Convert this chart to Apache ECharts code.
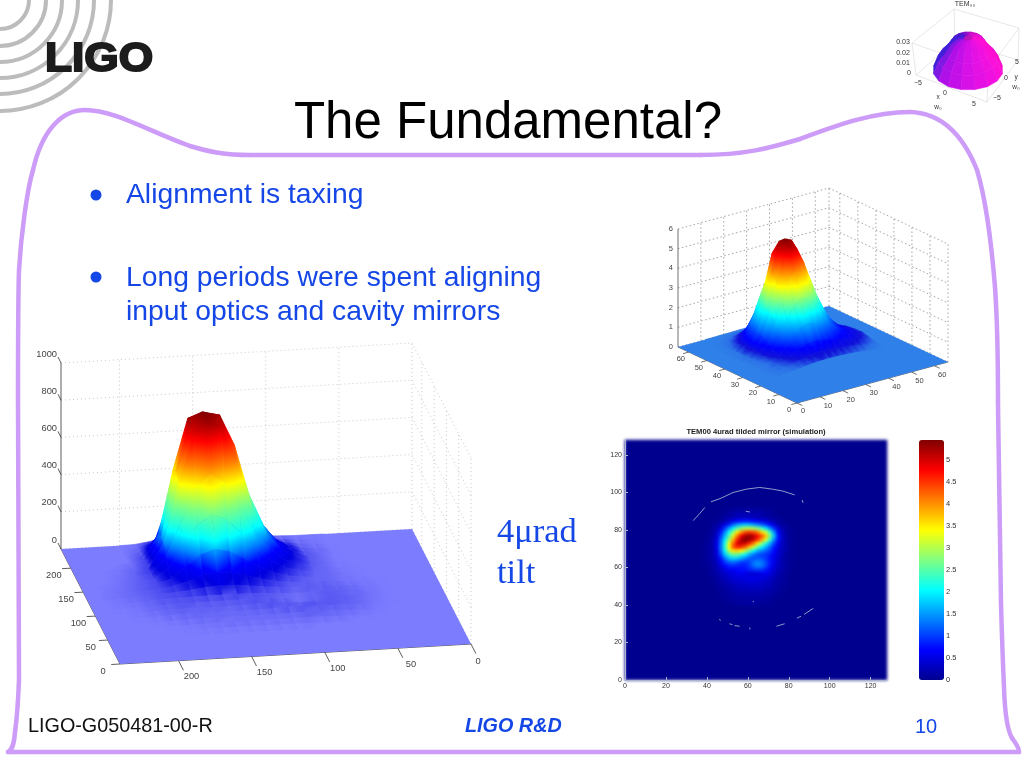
<!DOCTYPE html>
<html><head><meta charset="utf-8">
<style>html,body{margin:0;padding:0;background:#fff}#c{width:1024px;height:768px}
#c canvas[data-zr-dom-id="zr_1"]{filter:blur(1.5px)}
#c canvas[data-zr-dom-id="zr_3"]{filter:blur(.6px)}</style>
<script src="https://cdn.jsdelivr.net/npm/echarts@6/dist/echarts.min.js"></script>
</head><body><div id="c"></div>
<script>
/* ---------- data ---------- */
const heatTitle='TEM00 4urad tilded mirror (simulation)';
const heatCols=[38,40,42,44,46,48,50,52,54,56,58,60,62,64,66,68,70,72,74,76,78,80,82,84];
const heatRowsY=[90,88,86,84,82,80,78,76,74,72,70,68,66,64,62,60,58,56,54,52,50,48,46,44,42,40];
const heatValues=[
[0,0,0,0,0,0,.05,.05,.1,.1,.1,.1,.1,.1,.1,.05,.05,0,0,0,0,0,0,0],
[0,0,0,0,0,.05,.1,.15,.2,.2,.2,.2,.2,.2,.15,.1,.1,.05,0,0,0,0,0,0],
[0,0,0,0,.05,.1,.15,.2,.3,.3,.3,.3,.25,.2,.2,.15,.1,.05,.05,0,0,0,0,0],
[0,0,0,.05,.1,.2,.35,.55,.7,.75,.8,.75,.7,.6,.5,.4,.3,.2,.1,.05,0,0,0,0],
[0,0,.05,.1,.25,.5,.85,1.2,1.5,1.65,1.7,1.65,1.5,1.35,1.15,.95,.7,.45,.2,.1,.05,0,0,0],
[0,0,.1,.2,.5,1,1.5,2,2.5,2.8,3,3,2.9,2.7,2.35,1.9,1.4,.9,.45,.2,.1,.05,0,0],
[0,.05,.1,.3,.8,1.4,2.1,2.8,3.5,4,4.4,4.5,4.4,4.1,3.6,3.1,2.3,1.45,.7,.3,.1,.05,0,0],
[0,.05,.15,.4,1,1.7,2.5,3.3,4.1,4.8,5.2,5.3,5.1,4.7,4.3,3.7,2.7,1.7,.8,.35,.15,.05,0,0],
[0,.05,.2,.5,1.2,1.95,2.9,3.8,4.6,5.2,5.45,5.3,5,4.5,3.9,3.2,2.3,1.4,.75,.35,.15,.05,0,0],
[.05,.1,.2,.55,1.3,2.2,3.3,4.2,4.9,5.1,5,4.6,4.1,3.5,2.8,2.2,1.6,1.05,.6,.3,.15,.05,0,0],
[.05,.1,.2,.55,1.35,2.3,3.4,4.3,4.6,4.5,4.2,3.7,3.1,2.5,2,1.6,1.2,.8,.5,.3,.15,.05,0,0],
[.05,.1,.2,.5,1.25,2.1,3,3.5,3.6,3.4,3,2.5,2,1.6,1.4,1.2,1,.7,.45,.25,.15,.05,0,0],
[.05,.1,.2,.45,1.05,1.75,2.3,2.6,2.6,2.3,2,1.6,1.3,1.1,1,.95,.8,.6,.4,.25,.1,.05,0,0],
[.05,.1,.15,.4,.8,1.3,1.7,1.85,1.8,1.6,1.35,1.15,1.1,1.15,1.1,.95,.75,.55,.35,.2,.1,.05,0,0],
[.05,.05,.15,.3,.6,.95,1.2,1.25,1.15,1,.95,1.05,1.3,1.4,1.3,1.05,.8,.55,.35,.2,.1,.05,0,0],
[.05,.05,.1,.25,.45,.7,.85,.9,.85,.8,.85,1,1.25,1.4,1.3,1.05,.75,.5,.3,.2,.1,.05,0,0],
[0,.05,.1,.2,.35,.5,.6,.65,.7,.75,.75,.85,.95,1,.95,.8,.6,.4,.25,.15,.1,.05,0,0],
[0,.05,.1,.15,.25,.35,.45,.5,.55,.6,.55,.45,.4,.45,.55,.6,.5,.35,.2,.15,.05,0,0,0],
[0,0,.05,.1,.2,.3,.35,.45,.5,.5,.5,.5,.5,.5,.5,.45,.35,.25,.15,.1,.05,0,0,0],
[0,0,.05,.1,.15,.2,.3,.35,.4,.4,.45,.5,.5,.45,.4,.35,.3,.2,.15,.1,.05,0,0,0],
[0,0,0,.05,.1,.15,.2,.25,.3,.35,.35,.35,.35,.35,.3,.3,.25,.15,.1,.05,.05,0,0,0],
[0,0,0,.05,.05,.1,.15,.2,.25,.25,.25,.3,.3,.3,.25,.2,.2,.15,.1,.05,0,0,0,0],
[0,0,0,0,.05,.1,.1,.15,.2,.2,.2,.2,.2,.2,.2,.15,.15,.1,.05,.05,0,0,0,0],
[0,0,0,0,.05,.05,.1,.1,.15,.15,.15,.15,.15,.15,.15,.1,.1,.05,.05,0,0,0,0,0],
[0,0,0,0,0,.05,.05,.1,.1,.1,.1,.1,.1,.1,.1,.1,.05,.05,0,0,0,0,0,0],
[0,0,0,0,0,0,.05,.05,.1,.1,.1,.1,.1,.1,.05,.05,.05,0,0,0,0,0,0,0]];
const heatArcs=[
[[33.3,85],[36.6,88.9],[39,92]],
[[42,95],[47,97],[52.8,100],[59.3,101.8],[65.8,102.7],[72,101.8],[77,100.8],[82.9,98.7]],
[[86.5,96],[87,94.5]],[[59,90],[61,89.6]],
[[46,32.3],[46.8,31.8]],[[51,30],[52.5,29.5]],[[53.5,29],[56,28.7]],[[61,27],[61,28]],
[[74,28.7],[78,30]],[[84,33],[86,34]],[[87.5,35],[92,38.2]],[[62.4,41.9],[63,41.9]]];
const barLabelMax=5.45;

const leftXs=[30,40,50,60,70,80,90,100,110,120,130,140,150,160,170,180,190,200,210,220,230];
const leftYs=[240,230,220,210,200,190,180,170,160,150,140,130,120,110,100,90,80,70,60,50];
const leftZ=[
[0,0,0,0,1,1,4,7,14,25,41,54,60,51,31,12,2,0,0,0,0],
[0,0,0,0,2,3,10,19,38,67,109,144,160,136,83,32,5,0,0,0,0],
[0,0,0,0,3,7,20,40,79,139,224,297,330,280,172,66,10,0,0,0,0],
[0,0,0,1,6,11,34,67,134,235,430,560,600,540,340,112,17,0,0,0,0],
[0,0,0,1,8,15,46,92,185,330,600,780,800,770,500,154,23,2,0,0,0],
[0,0,0,1,8,16,49,98,197,370,640,805,820,800,520,164,25,6,2,0,0],
[0,0,0,1,8,15,46,95,190,345,600,750,790,720,480,158,26,10,3,0,0],
[0,0,0,2,8,12,34,65,134,232,372,490,540,462,285,112,22,11,5,0,0],
[0,0,1,3,8,10,22,42,86,150,240,318,350,300,186,76,20,12,6,2,0],
[0,0,1,3,8,9,14,24,48,82,132,174,190,164,102,44,20,13,7,3,0],
[0,1,2,4,8,10,12,14,26,42,64,84,92,80,52,30,18,13,8,4,1],
[0,1,3,6,10,13,14,14,20,26,36,44,46,40,30,22,18,12,7,3,1],
[0,1,4,8,12,14,11,9,12,16,20,22,22,22,20,18,16,10,5,2,0],
[0,1,4,9,12,14,9,5,9,14,18,16,15,15,15,15,13,8,3,1,0],
[0,1,3,9,13,15,13,11,14,18,16,13,11,11,11,12,10,6,2,0,0],
[0,0,2,7,11,13,14,16,16,13,11,9,8,9,10,10,8,3,1,0,0],
[0,0,1,3,7,9,11,11,9,8,7,7,7,8,8,6,3,1,0,0,0],
[0,0,0,1,3,5,6,7,6,6,6,6,6,5,4,2,1,0,0,0,0],
[0,0,0,0,0,1,2,3,3,3,3,3,3,3,2,1,0,0,0,0,0],
[0,0,0,0,0,0,0,0,0,0,0,0,0,0,0,0,0,0,0,0,0]];
const leftTicks=[0,50,100,150,200];
const leftZTicks=[0,200,400,600,800,1000];
const leftStops=[[0,'#7c7cff'],[4,'#7272fc'],[10,'#6464f6'],[20,'#4a4af0'],[40,'#1c1ce4'],[60,'#0000e0'],[110,'#0000ff'],[170,'#0080ff'],[240,'#00ffff'],[370,'#80ff80'],[480,'#ffff00'],[580,'#ff8000'],[700,'#ff0000'],[820,'#800000']];

const topAs=[9,12,15,18,21,24,27,30,33,36,39,42,45,48,51,54,57];
const topBs=[66,63,60,57,54,51,48,45,42,39,36,33,30,27,24];
const topZ=[
[0,0,0,.01,.01,.02,.03,.03,.03,.02,.02,.01,.01,0,0,0,0],
[0,0,.01,.02,.05,.08,.11,.12,.11,.1,.07,.05,.03,.02,.01,0,0],
[0,.01,.04,.09,.19,.31,.41,.45,.43,.36,.28,.19,.12,.06,.03,.01,.01],
[0,.02,.09,.22,.46,.75,.99,1.1,1.04,.89,.68,.47,.29,.16,.08,.04,.01],
[0,.04,.18,.44,.92,1.5,1.98,2.2,2.09,1.77,1.36,.94,.58,.32,.16,.07,.03],
[0,.07,.29,.72,1.51,2.45,3.24,3.6,3.42,2.9,2.22,1.53,.94,.52,.27,.12,.05],
[0,.1,.39,.98,2.06,3.33,4.7,5.2,4.9,3.95,3.02,2.08,1.28,.71,.36,.16,.06],
[0,.11,.44,1.09,2.29,3.9,5.2,5.45,5.3,4.6,3.36,2.32,1.43,.78,.4,.18,.07],
[0,.1,.4,1.01,2.13,3.5,4.8,5.3,5,4.2,3.2,2.25,1.45,.9,.55,.4,.22],
[0,.08,.32,.81,1.71,2.76,3.65,4.06,3.85,3.3,2.6,1.85,1.22,.8,.55,.42,.25],
[0,.06,.22,.56,1.18,1.9,2.52,2.8,2.7,2.35,1.85,1.35,.95,.7,.55,.42,.25],
[.01,.05,.16,.38,.72,1.13,1.49,1.66,1.6,1.4,1.15,.9,.72,.6,.48,.35,.18],
[.02,.05,.13,.26,.44,.65,.82,.88,.85,.78,.68,.6,.52,.45,.35,.22,.1],
[.02,.05,.1,.18,.26,.35,.42,.45,.45,.42,.4,.36,.32,.26,.18,.1,.04],
[.01,.03,.05,.08,.12,.16,.2,.22,.22,.22,.2,.18,.15,.1,.06,.03,.01]];
const topTicks=[0,10,20,30,40,50,60];
const topZTicks=[0,1,2,3,4,5,6];
const topStops=[[0,'#2f80e8'],[.12,'#2a70e8'],[.35,'#1010d8'],[.68,'#0000ff'],[1.36,'#0080ff'],[2.04,'#00ffff'],[2.72,'#80ff80'],[3.4,'#ffff00'],[4.09,'#ff8000'],[4.77,'#ff0000'],[5.45,'#800000']];

const temRho=[5,4.3,3.3,2.3,1.2,.6,0];
const temZ=[0,.011,.018,.027,.0305,.0295,.026];
const temSectorColors=['#ff10d0','#fa10d8','#f010e0','#e410e4','#d810e8','#c410e8','#b010e8','#8018e4','#4020d8','#4820d4','#5018d0','#8010cc','#a010c8','#c810c8','#d810cc','#e810d0'];

/* ---------- projections onto the hidden page-sized axes ---------- */
const projL=(x,y,z)=>[471-x/240*351-y/240*59, 644+x/240*20-y/240*115-z/1000*186];
const projT=(a,b,z)=>[797+a/66*151-b/66*119, 403-a/66*41-b/66*56-z/6*118];
const projM=(rho,th,z)=>[968+7*rho*Math.cos(th), 70+4*rho*Math.sin(th)-z/.03*32];
const boxBottom=[[916,75],[987,102],[1018,60],[955,41]],boxTop=[[912,43],[988,70],[1019,28],[954,9]];
function projB(u,v,z){
  const c=boxBottom.map((p,i)=>[p[0]+(boxTop[i][0]-p[0])*z,p[1]+(boxTop[i][1]-p[1])*z]);
  return [0,1].map(k=>(1-u)*(1-v)*c[0][k]+u*(1-v)*c[1][k]+u*v*c[2][k]+(1-u)*v*c[3][k]);
}

function hex(c){return [1,3,5].map(i=>parseInt(c.substr(i,2),16));}
function colorAt(st,z){
  if(z<=st[0][0])return st[0][1];
  for(let i=1;i<st.length;i++){ if(z<=st[i][0]){
    const t=(z-st[i-1][0])/(st[i][0]-st[i-1][0]),a=hex(st[i-1][1]),b=hex(st[i][1]);
    return 'rgb('+a.map((v,k)=>Math.round(v+(b[k]-v)*t)).join(',')+')';}}
  return st[st.length-1][1];
}
function buildQuads(xs,ys,Z,proj,stops){
  const q=[];
  for(let i=0;i<ys.length-1;i++)for(let j=0;j<xs.length-1;j++){
    const c=[[xs[j],ys[i],Z[i][j]],[xs[j+1],ys[i],Z[i][j+1]],[xs[j+1],ys[i+1],Z[i+1][j+1]],[xs[j],ys[i+1],Z[i+1][j]]];
    if(c.every(p=>p[2]===0))continue;
    q.push({pts:c.map(p=>proj(p[0],p[1],p[2])),zs:c.map(p=>p[2]),
      depth:proj((xs[j]+xs[j+1])/2,(ys[i]+ys[i+1])/2,0)[1],stops});
  }
  return q.sort((a,b)=>a.depth-b.depth);
}
function quadFill(q,pp){
  let lo=0,hi=0;q.zs.forEach((z,i)=>{if(z<q.zs[lo])lo=i;if(z>q.zs[hi])hi=i;});
  const a=q.zs[lo],b=q.zs[hi];
  if(b-a<1e-6)return colorAt(q.stops,a);
  const cs=[{offset:0,color:colorAt(q.stops,a)}];
  q.stops.forEach(s=>{if(s[0]>a&&s[0]<b)cs.push({offset:(s[0]-a)/(b-a),color:s[1]});});
  cs.push({offset:1,color:colorAt(q.stops,b)});
  return new echarts.graphic.LinearGradient(pp[lo][0],pp[lo][1],pp[hi][0],pp[hi][1],cs,true);
}
function quadSeries(q){
  return {type:'custom',coordinateSystem:'cartesian2d',xAxisIndex:0,yAxisIndex:0,silent:true,clip:false,zlevel:3,
    data:q.map(o=>o.pts[0]),
    renderItem(p,api){const o=q[p.dataIndex];const pp=o.pts.map(c=>api.coord(c));
      const f=o.color||quadFill(o,pp);
      return {type:'polygon',shape:{points:pp},style:{fill:f,stroke:f,lineWidth:.6}};}};
}
function floorSeries(corners,fill){
  return {type:'custom',coordinateSystem:'cartesian2d',xAxisIndex:0,yAxisIndex:0,silent:true,clip:false,zlevel:3,data:[corners[0]],
    renderItem(p,api){return {type:'polygon',shape:{points:corners.map(c=>api.coord(c))},style:{fill}};}};
}
function segSeries(segs,color,width,dash){
  return {type:'custom',coordinateSystem:'cartesian2d',xAxisIndex:0,yAxisIndex:0,silent:true,clip:false,
    data:segs.map(s=>s[0]),
    renderItem(p,api){const s=segs[p.dataIndex],a=api.coord(s[0]),b=api.coord(s[1]);
      return {type:'line',shape:{x1:a[0],y1:a[1],x2:b[0],y2:b[1]},style:{stroke:color,lineWidth:width,lineDash:dash||null,fill:null}};}};
}
function textSeries(items,font,color){
  return {type:'custom',coordinateSystem:'cartesian2d',xAxisIndex:0,yAxisIndex:0,silent:true,clip:false,
    data:items.map(t=>[t[0],t[1]]),
    renderItem(p,api){const t=items[p.dataIndex],c=api.coord([t[0],t[1]]);
      return {type:'text',x:c[0],y:c[1],style:{text:t[2],font,fill:color,align:t[3]||'center',verticalAlign:'middle'}};}};
}
function off(p,dx,dy,s,al){return [p[0]+dx,p[1]+dy,String(s),al];}

/* left surface furniture */
const lWall=[],lAxis=[],lText=[];
leftZTicks.forEach(z=>{
  lWall.push([projL(240,240,z),projL(0,240,z)],[projL(0,240,z),projL(0,0,z)]);
  lText.push(off(projL(240,240,z),-4,-9,z,'right'));
  lAxis.push([projL(240,240,z),(p=>[p[0]-3,p[1]-6])(projL(240,240,z))]);
});
[200,150,100,50,0].forEach(x=>lWall.push([projL(x,240,0),projL(x,240,1000)]));
[200,150,100,50,0].forEach(y=>lWall.push([projL(0,y,0),projL(0,y,1000)]));
lAxis.push([projL(240,240,0),projL(240,240,1000)]);
lAxis.push([projL(240,240,0),projL(240,0,0)],[projL(240,0,0),projL(0,0,0)]);
leftTicks.forEach(t=>{
  lAxis.push([projL(240,t,0),projL(246,t,0)],[projL(t,0,0),projL(t,-20,0)]);
  lText.push(off(projL(240,t,0),-17,7,t),off(projL(t,0,0),t?13:7,t?16:17,t));
});
/* upper right surface furniture */
const tWall=[],tAxis=[],tText=[];
topZTicks.forEach(z=>{
  tWall.push([projT(0,66,z),projT(66,66,z)],[projT(66,66,z),projT(66,0,z)]);
  tText.push(off(projT(0,66,z),-5,0,z,'right'));
});
topTicks.slice(1).forEach(t=>{
  tWall.push([projT(t,66,0),projT(t,66,6)],[projT(66,t,0),projT(66,t,6)]);
});
tWall.push([projT(66,66,0),projT(66,66,6)],[projT(66,0,0),projT(66,0,6)]);
tAxis.push([projT(0,66,0),projT(0,66,6)],[projT(0,66,0),projT(0,0,0)],[projT(0,0,0),projT(66,0,0)]);
topTicks.forEach(t=>{
  tAxis.push([projT(0,t,0),projT(-2.5,t,0)],[projT(t,0,0),projT(t,-3,0)]);
  tText.push(off(projT(0,t,0),-8,7,t),off(projT(t,0,0),t?8:6,t?9:8,t));
});
/* thumbnail */
const bEdges=[[[0,0,0],[1,0,0]],[[1,0,0],[1,1,0]],[[0,0,0],[0,1,0]],[[0,1,0],[1,1,0]],
 [[0,0,0],[0,0,1]],[[1,0,0],[1,0,1]],[[1,1,0],[1,1,1]],[[0,1,0],[0,1,1]],
 [[0,0,1],[0,1,1]],[[0,1,1],[1,1,1]],[[0,0,1],[1,0,1]],[[1,0,1],[1,1,1]]];
const mSeg=bEdges.map(e=>[projB(...e[0]),projB(...e[1])]);
const mQuads=[];
const nS=temSectorColors.length;
for(let s=0;s<nS;s++)for(let r=0;r<temRho.length-1;r++){
  const t0=s/nS*2*Math.PI-Math.PI/nS,t1=(s+1)/nS*2*Math.PI-Math.PI/nS;
  const pts=[projM(temRho[r],t0,temZ[r]),projM(temRho[r],t1,temZ[r]),projM(temRho[r+1],t1,temZ[r+1]),projM(temRho[r+1],t0,temZ[r+1])];
  const mid=projM((temRho[r]+temRho[r+1])/2,(t0+t1)/2,0);
  mQuads.push({pts,color:r>=5?'#b818b8':temSectorColors[s],depth:mid[1]});
}
mQuads.sort((a,b)=>a.depth-b.depth);
const mText=[[965,4,'TEM₀₀'],[903,42,'0.03'],[903,53,'0.02'],[903,63,'0.01'],[909,73,'0'],[918,83,'−5'],[945,93,'0'],[974,104,'5'],[997,98,'−5'],[1006,78,'0'],[1017,62,'5']];
const mText2=[[1016,77,'y'],[1016,87,'w₀'],[938,97,'x'],[938,107,'w₀']];

/* heat map data: every cell of the 64x64 image, background cells are zero */
const heatCats=[];for(let i=0;i<64;i++)heatCats.push(String(i*2));
const heatData=[];
for(let i=0;i<64;i++)for(let j=0;j<64;j++){
  const c=heatCols.indexOf(i*2),r=heatRowsY.indexOf(j*2);
  heatData.push([i,j,c>=0&&r>=0?heatValues[r][c]:0]);
}

const jet=['#00008f','#0000ff','#0080ff','#00ffff','#80ff80','#ffff00','#ff8000','#ff0000','#800000'];
const sans='"Liberation Sans",Arial,sans-serif',serif='"Liberation Serif",serif';
const blue='#1547e6',purple='#cc9cf8';
function gtext(x,y,t,font,fill,al){return {type:'text',x,y,silent:true,style:{text:t,font,fill,align:al||'left',verticalAlign:'middle'}};}
const logoArcs=[29,46,62,78,94,111].map(r=>({type:'arc',silent:true,shape:{cx:0,cy:0,r,startAngle:0,endAngle:Math.PI/2},style:{stroke:'#bcbcbc',lineWidth:4,fill:null}}));
/* the slide's hand-drawn frame */
const frameCurves=[
[8,752,12,750,14,745,15,732],[15,732,16,725,18,705,19,680],[19,680,19,600,18,500,18,400],[18,400,18,340,18,300,19,270],
[19,270,21,235,27,190,33,170],[33,170,42,130,62,110,85,110],[85,110,115,110,150,132,190,146],[190,146,210,152,225,155,250,155],
[250,155,400,155,550,155,700,155],[700,155,745,155,770,148,800,139],[800,139,830,128,870,112,910,112],
[910,112,945,113,965,140,977,170],[977,170,986,200,992,250,995,287],[995,287,998,330,998,370,998,403],
[998,403,999,480,1000,560,1001,603],[1001,603,1002,640,1003,665,1004,687],
[1004,687,1005,720,1009,733,1012,738],[1012,738,1016,744,1019,747,1019,752],[1019,752,700,752,300,752,8,752]];
const frameEls=frameCurves.map(c=>({type:'bezierCurve',silent:true,shape:{x1:c[0],y1:c[1],cpx1:c[2],cpy1:c[3],cpx2:c[4],cpy2:c[5],x2:c[6],y2:c[7]},style:{stroke:purple,lineWidth:4.5,fill:null,lineCap:'round'}}));

const option={
  animation:false,
  graphic:{elements:[
    ...logoArcs,
    {type:'text',x:45,y:60,scaleX:1.08,silent:true,style:{text:'LIGO',font:'bold 41px '+sans,fill:'#1c1c1c',stroke:'#1c1c1c',lineWidth:2,align:'left',verticalAlign:'middle'}},
    ...frameEls,
    gtext(508,124,'The Fundamental?','51px '+sans,'#000','center'),
    {type:'circle',silent:true,shape:{cx:96,cy:195,r:5.5},style:{fill:blue}},
    gtext(126,195,'Alignment is taxing','28.3px '+sans,blue),
    {type:'circle',silent:true,shape:{cx:96,cy:277,r:5.5},style:{fill:blue}},
    gtext(126,278,'Long periods were spent aligning','28.3px '+sans,blue),
    gtext(126,312,'input optics and cavity mirrors','28.3px '+sans,blue),
    gtext(497,533,'4μrad','34.5px '+serif,blue),
    gtext(497,574,'tilt','34.5px '+serif,blue),
    gtext(28,727,'LIGO-G050481-00-R','19.8px '+sans,'#111'),
    gtext(465,727,'LIGO R&D','italic bold 19.8px '+sans,blue),
    gtext(915,727,'10','20px '+sans,blue),
    gtext(756,432,heatTitle,'bold 7.6px '+sans,'#222','center')
  ]},
  grid:[
    {left:0,top:0,width:1024,height:768,show:false},
    {left:625,top:440,width:262,height:240,show:true,backgroundColor:'#00008f',borderWidth:0,zlevel:1},
    {left:625,top:440,width:262,height:240,show:false},
    {left:919,top:440,width:25,height:240,show:false}
  ],
  xAxis:[
    {gridIndex:0,type:'value',min:0,max:1024,show:false},
    {gridIndex:1,type:'category',data:heatCats,show:false},
    {gridIndex:2,type:'value',min:0,max:128,interval:20,splitLine:{show:false},zlevel:2,
      axisLine:{show:true,onZero:false,lineStyle:{color:'#aab4cc'}},axisTick:{show:true,inside:true,length:3,lineStyle:{color:'#aab4cc'}},
      axisLabel:{fontSize:7,color:'#333',margin:3,fontFamily:'Liberation Sans',showMaxLabel:false}},
    {gridIndex:3,type:'value',min:0,max:1,show:false}
  ],
  yAxis:[
    {gridIndex:0,type:'value',min:0,max:768,inverse:true,show:false},
    {gridIndex:1,type:'category',data:heatCats,show:false},
    {gridIndex:2,type:'value',min:0,max:128,interval:20,splitLine:{show:false},zlevel:2,
      axisLine:{show:true,onZero:false,lineStyle:{color:'#aab4cc'}},axisTick:{show:true,inside:true,length:3,lineStyle:{color:'#aab4cc'}},
      axisLabel:{fontSize:7,color:'#333',margin:3,fontFamily:'Liberation Sans',showMaxLabel:false}},
    {gridIndex:3,type:'value',position:'right',min:0,max:barLabelMax,interval:.5,splitLine:{show:false},axisLine:{show:false},axisTick:{show:false},
      axisLabel:{fontSize:7.5,color:'#333',margin:2,fontFamily:'Liberation Sans',showMaxLabel:false}}
  ],
  visualMap:{type:'continuous',seriesIndex:0,dimension:2,min:0,max:5.45,calculable:false,realtime:false,left:919,top:440,itemWidth:25,itemHeight:240,text:['',''],
    inRange:{color:jet},textStyle:{fontSize:0},padding:0,hoverLink:false},
  series:[
    {type:'heatmap',xAxisIndex:1,yAxisIndex:1,data:heatData,silent:true,progressive:0,zlevel:1},
    ...heatArcs.map(seg=>({type:'line',xAxisIndex:2,yAxisIndex:2,data:seg,symbol:'none',silent:true,zlevel:2,lineStyle:{color:'#b4c0d8',width:.8}})),
    segSeries(lWall,'#bbbbbb',.8,[1,3]),
    segSeries(lAxis,'#333',.8),
    floorSeries([projL(0,0,0),projL(240,0,0),projL(240,240,0),projL(0,240,0)],leftStops[0][1]),
    quadSeries(buildQuads(leftXs,leftYs,leftZ,projL,leftStops)),
    textSeries(lText,'9.3px '+sans,'#444'),
    segSeries(tWall,'#666',.6,[1.5,2.5]),
    segSeries(tAxis,'#333',.7),
    floorSeries([projT(0,0,0),projT(66,0,0),projT(66,66,0),projT(0,66,0)],topStops[0][1]),
    quadSeries(buildQuads(topAs,topBs,topZ,projT,topStops)),
    textSeries(tText,'7.5px '+sans,'#444'),
    segSeries(mSeg,'#dcdcdc',.7),
    quadSeries(mQuads),
    textSeries(mText,'7px '+sans,'#333'),
    textSeries(mText2,'6.5px '+sans,'#333')
  ]
};
const chart=echarts.init(document.getElementById('c'),null,{renderer:'canvas',width:1024,height:768});
chart.setOption(option);
</script></body></html>
